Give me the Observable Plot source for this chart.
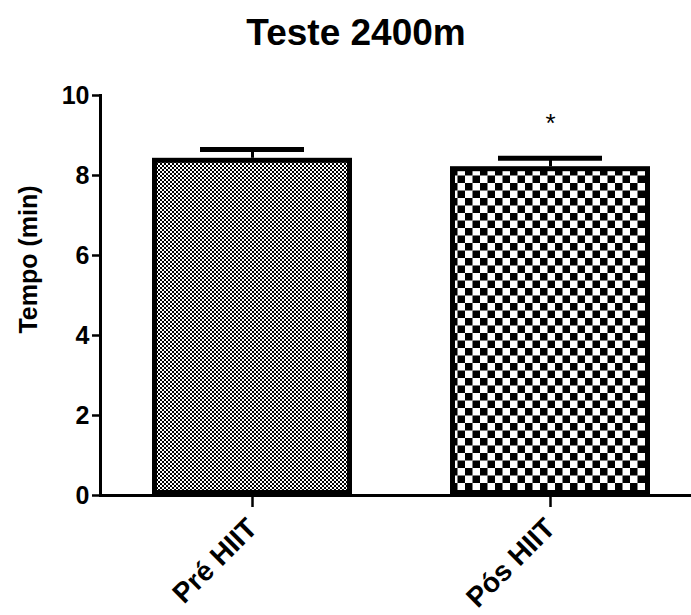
<!DOCTYPE html>
<html>
<head>
<meta charset="utf-8">
<script src="https://cdn.jsdelivr.net/npm/d3@7"></script>
<script src="https://cdn.jsdelivr.net/npm/@observablehq/plot@0.6"></script>
<style>
  html, body { margin: 0; padding: 0; background: #fff; }
  body { width: 691px; height: 615px; overflow: hidden; font-family: "Liberation Sans", Arial, sans-serif; }
  #title { position: relative; height: 75px; color: #000; }
  #title span { position: absolute; left: 0; width: 712px; text-align: center; top: 14px; font-size: 37px; font-weight: bold; line-height: 1; }
  svg { display: block; }
</style>
</head>
<body>
<div id="title"><span>Teste 2400m</span></div>
<div id="chart"></div>
<script>
const categories = ["Pré HIIT", "Pós HIIT"];
const means = [8.43, 8.22];
const errors = [0.22, 0.21];
const patterns = ["fine", "coarse"];
const yTicks = [0, 2, 4, 6, 8, 10];
const annotations = [{cat: "Pós HIIT", y: 9.3, text: "*"}];

const data = categories.map((c, i) => ({cat: c, mean: means[i], hi: means[i] + errors[i], pat: patterns[i]}));

const defsMark = () => {
  const svg = d3.create("svg:defs");
  const fine = svg.append("pattern").attr("id", "pat-fine").attr("patternUnits", "userSpaceOnUse")
    .attr("width", 4).attr("height", 4);
  fine.append("rect").attr("width", 4).attr("height", 4).attr("fill", "#fff");
  fine.append("rect").attr("width", 2).attr("height", 2).attr("fill", "#000");
  fine.append("rect").attr("x", 2).attr("y", 2).attr("width", 2).attr("height", 2).attr("fill", "#000");
  const coarse = svg.append("pattern").attr("id", "pat-coarse").attr("patternUnits", "userSpaceOnUse")
    .attr("width", 15).attr("height", 15).attr("x", 0).attr("y", 3);
  coarse.append("rect").attr("width", 15).attr("height", 15).attr("fill", "#fff");
  coarse.append("rect").attr("width", 7.5).attr("height", 7.5).attr("fill", "#000");
  coarse.append("rect").attr("x", 7.5).attr("y", 7.5).attr("width", 7.5).attr("height", 7.5).attr("fill", "#000");
  return svg.node();
};

const chart = Plot.plot({
  width: 691,
  height: 540,
  marginTop: 20,
  marginBottom: 120,
  marginLeft: 100,
  marginRight: 0,
  style: {fontFamily: "'Liberation Sans', Arial, sans-serif", fontSize: "25px", fontWeight: "bold", color: "#000", background: "#fff"},
  x: {domain: categories, range: [103, 699], paddingInner: 0.329, paddingOuter: 0.1645, label: null},
  y: {domain: [0, 10], label: null},
  marks: [
    defsMark,
    Plot.ruleX(data, {x: "cat", y1: "mean", y2: "hi", stroke: "#000", strokeWidth: 3}),
    Plot.tickY(data, {x: "cat", y: "hi", stroke: "#000", strokeWidth: 5, insetLeft: 48, insetRight: 48}),
    Plot.barY(data, {x: "cat", y: "mean", fill: d => `url(#pat-${d.pat})`, stroke: "#000", strokeWidth: 5, inset: 2.5}),
    Plot.text(annotations, {x: "cat", y: "y", text: "text", fontSize: 26, fontWeight: "normal", fill: "#000"}),
    Plot.frame({anchor: "left", stroke: "#000", strokeWidth: 3}),
    Plot.frame({anchor: "bottom", stroke: "#000", strokeWidth: 3}),
    Plot.axisY({ticks: yTicks, tickSize: 8, tickPadding: 3, tickFormat: d => d, fontSize: 25, strokeWidth: 2.5, label: null}),
    Plot.axisX({tickSize: 12, tickPadding: 16, tickRotate: -45, fontSize: 28, strokeWidth: 2.5, label: null}),
    Plot.text(["Tempo (min)"], {frameAnchor: "left", textAnchor: "middle", y: () => 5.9, dx: -72, rotate: -90, fontSize: 25, fontWeight: "bold", fill: "#000", text: d => d})
  ]
});
document.getElementById("chart").appendChild(chart);
</script>
</body>
</html>
